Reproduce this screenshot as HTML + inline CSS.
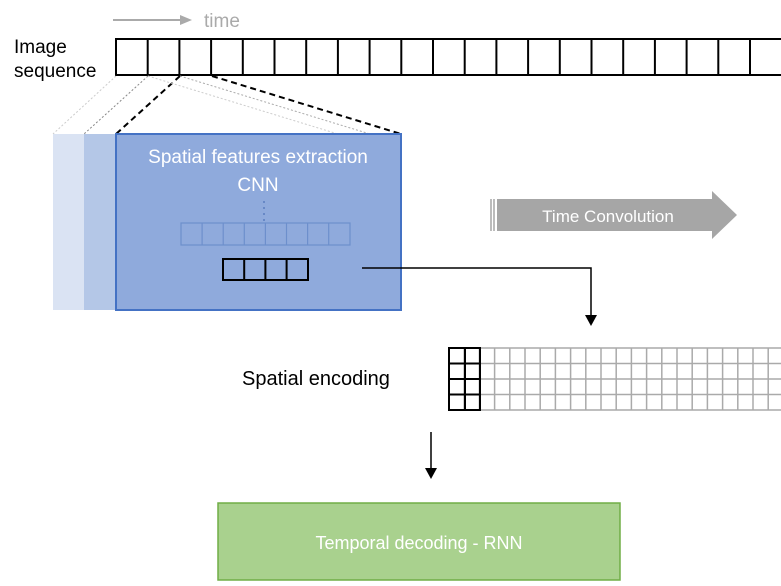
<!DOCTYPE html><html><head><style>body{margin:0;width:781px;height:581px;background:#fff;overflow:hidden}</style></head><body>
<svg width="781" height="581" xmlns="http://www.w3.org/2000/svg" font-family="Liberation Sans, sans-serif">
<line x1="113" y1="20" x2="182" y2="20" stroke="#aaa" stroke-width="2"/>
<polygon points="180,15 192,20 180,25" fill="#aaa"/>
<text x="204" y="27" font-size="19" fill="#aaa">time</text>
<text x="14" y="53" font-size="19">Image</text>
<text x="14" y="77" font-size="19">sequence</text>
<g stroke="#000" stroke-width="2" fill="none">
<rect x="116" y="39" width="680" height="36"/>
</g>
<g stroke="#000" stroke-width="2" id="seq"></g>
<line x1="116" y1="76" x2="53" y2="134" stroke="#ccc" stroke-dasharray="2,2"/>
<line x1="148" y1="76" x2="84" y2="134" stroke="#888" stroke-dasharray="2,2"/>
<line x1="180" y1="76" x2="116" y2="134" stroke="#000" stroke-width="2" stroke-dasharray="6,4"/>
<line x1="148" y1="76" x2="338" y2="134" stroke="#ccc" stroke-dasharray="2,2"/>
<line x1="180" y1="76" x2="370" y2="134" stroke="#aaa" stroke-dasharray="2,2"/>
<line x1="212" y1="76" x2="401" y2="134" stroke="#000" stroke-width="2" stroke-dasharray="6,4"/>
<rect x="53" y="134" width="32" height="176" fill="#dae3f3"/>
<rect x="84" y="134" width="32" height="176" fill="#b4c7e7"/>
<rect x="116" y="134" width="285" height="176" fill="#8faadc" stroke="#4472c4" stroke-width="2"/>
<text x="258" y="163" font-size="19" fill="#fff" text-anchor="middle">Spatial features extraction</text>
<text x="258" y="191" font-size="19" fill="#fff" text-anchor="middle">CNN</text>
<line x1="264" y1="201" x2="264" y2="221" stroke="#5a7dbf" stroke-width="1.5" stroke-dasharray="2,4"/>
<g id="gray" stroke="#6d8fcc" fill="none" stroke-width="1.2"></g>
<g id="blk" stroke="#000" fill="none" stroke-width="2"></g>
<polyline points="362,268 591,268 591,318" fill="none" stroke="#000" stroke-width="1.5"/>
<polygon points="585,315 597,315 591,326" fill="#000"/>
<polygon points="497,199 712,199 712,191 737,215 712,239 712,231 497,231" fill="#a6a6a6"/>
<line x1="491" y1="199" x2="491" y2="231" stroke="#a6a6a6" stroke-width="1.5"/>
<line x1="494" y1="199" x2="494" y2="231" stroke="#a6a6a6" stroke-width="1.5"/>
<text x="608" y="222" font-size="17" fill="#fff" text-anchor="middle">Time Convolution</text>
<text x="242" y="385" font-size="20">Spatial encoding</text>
<g id="grid" stroke="#aaa" fill="none" stroke-width="1.5"></g>
<g id="gblk" stroke="#000" fill="none" stroke-width="2"></g>
<line x1="431" y1="432" x2="431" y2="470" stroke="#000" stroke-width="1.5"/>
<polygon points="425,468 437,468 431,479" fill="#000"/>
<rect x="218" y="503" width="402" height="77" fill="#a9d18e" stroke="#70ad47" stroke-width="1.5"/>
<text x="419" y="549" font-size="18" fill="#fff" text-anchor="middle">Temporal decoding - RNN</text>
<script>
var ns="http://www.w3.org/2000/svg";
function L(g,x1,y1,x2,y2){var l=document.createElementNS(ns,"line");l.setAttribute("x1",x1);l.setAttribute("y1",y1);l.setAttribute("x2",x2);l.setAttribute("y2",y2);document.getElementById(g).appendChild(l);}
function R(g,x,y,w,h){var r=document.createElementNS(ns,"rect");r.setAttribute("x",x);r.setAttribute("y",y);r.setAttribute("width",w);r.setAttribute("height",h);document.getElementById(g).appendChild(r);}
for(var i=1;i<21;i++){var x=116+i*31.7;L("seq",x,39,x,75);}
R("gray",181,223,169,22);for(i=1;i<8;i++)L("gray",181+i*21.1,223,181+i*21.1,245);
R("blk",223,259,85,21);for(i=1;i<4;i++)L("blk",223+i*21.2,259,223+i*21.2,280);
for(i=0;i<=4;i++)L("grid",449,348+i*15.5,781,348+i*15.5);
for(i=0;i<23;i++)L("grid",449+i*15.2,348,449+i*15.2,410);
R("gblk",449,348,31,62);L("gblk",465,348,465,410);for(i=1;i<4;i++)L("gblk",449,348+i*15.5,480,348+i*15.5);
</script>
</svg></body></html>
